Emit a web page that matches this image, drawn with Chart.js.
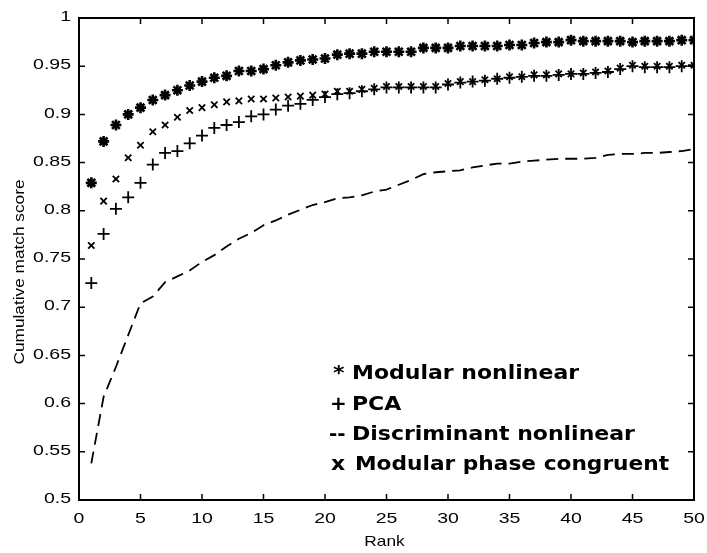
<!DOCTYPE html>
<html>
<head>
<meta charset="utf-8">
<script src="https://cdn.jsdelivr.net/npm/chart.js@4"></script>
<style>
  html, body { margin:0; padding:0; background:#fff; }
  #wrap { width:707px; height:553px; position:relative; }
</style>
</head>
<body>
<div id="wrap"><canvas id="cmc"></canvas></div>
<script>
const RANKS = [1,2,3,4,5,6,7,8,9,10,11,12,13,14,15,16,17,18,19,20,21,22,23,24,25,
  26,27,28,29,30,31,32,33,34,35,36,37,38,39,40,41,42,43,44,45,46,47,48,49,50];

const MODULAR_NONLINEAR = [0.829,0.872,0.889,0.900,0.907,0.915,0.920,0.925,0.930,0.934,
  0.938,0.940,0.945,0.945,0.947,0.951,0.954,0.956,0.957,0.958,0.962,0.963,0.963,0.965,0.965,
  0.965,0.965,0.969,0.969,0.969,0.971,0.971,0.971,0.971,0.972,0.972,0.974,0.975,0.975,0.977,
  0.976,0.976,0.976,0.976,0.975,0.976,0.976,0.976,0.977,0.977];

const PCA = [0.725,0.776,0.802,0.814,0.829,0.848,0.860,0.862,0.870,0.878,
  0.886,0.889,0.892,0.898,0.900,0.905,0.909,0.911,0.915,0.918,0.921,0.922,0.924,0.926,0.928,
  0.928,0.928,0.928,0.928,0.931,0.933,0.934,0.935,0.937,0.938,0.939,0.940,0.940,0.941,0.942,
  0.942,0.943,0.944,0.947,0.950,0.949,0.949,0.949,0.950,0.951];

const DISCRIMINANT = [0.538,0.607,0.638,0.671,0.704,0.711,0.726,0.732,0.738,0.747,
  0.754,0.763,0.771,0.777,0.785,0.790,0.796,0.801,0.806,0.809,0.813,0.814,0.816,0.820,0.822,
  0.827,0.832,0.838,0.840,0.841,0.842,0.845,0.847,0.849,0.849,0.851,0.852,0.853,0.854,0.854,
  0.854,0.855,0.858,0.859,0.859,0.860,0.860,0.861,0.862,0.864];

const PHASE_CONGRUENT = [0.764,0.810,0.833,0.855,0.868,0.882,0.889,0.897,0.904,0.907,
  0.910,0.913,0.914,0.916,0.916,0.917,0.918,0.919,0.920,0.921,0.924,0.924,0.926,0.927,0.929,
  0.929,0.929,0.929,0.929,0.932,0.934,0.934,0.936,0.937,0.939,0.939,0.941,0.941,0.942,0.942,
  0.943,0.944,0.945,0.948,0.951,0.950,0.950,0.950,0.951,0.951];

const X_TICKS = [0,5,10,15,20,25,30,35,40,45,50];
const Y_TICKS = [0.5,0.55,0.6,0.65,0.7,0.75,0.8,0.85,0.9,0.95,1];
const X_TITLE = 'Rank';
const Y_TITLE = 'Cumulative match score';

const LEGEND_LINES = [
  { mark:'*',  text:'Modular nonlinear' },
  { mark:'+',  text:'PCA' },
  { mark:'--', text:'Discriminant nonlinear' },
  { mark:'x',  text:'Modular phase congruent' },
];

const pts = arr => arr.map((v,i) => ({ x: RANKS[i], y: v }));

// the scanned figure has wide-looking glyphs, so text gets a horizontal stretch
function stretchText(ctx, str, x, y, sx, align) {
  ctx.save();
  ctx.translate(x, y);
  ctx.scale(sx, 1);
  ctx.textAlign = align;
  ctx.fillText(str, 0, 0);
  ctx.restore();
}

const boxPlugin = {
  id:'box',
  afterDraw(chart) {
    const { ctx, chartArea:a, scales:{x, y} } = chart;
    ctx.save();
    ctx.strokeStyle = '#000';
    ctx.lineWidth = 2;
    ctx.strokeRect(a.left, a.top, a.right - a.left, a.bottom - a.top);
    ctx.lineWidth = 1.5;
    ctx.beginPath();
    X_TICKS.forEach(t => {
      const px = x.getPixelForValue(t);
      ctx.moveTo(px, a.bottom); ctx.lineTo(px, a.bottom - 6);
      ctx.moveTo(px, a.top);    ctx.lineTo(px, a.top + 6);
    });
    Y_TICKS.forEach(t => {
      const py = y.getPixelForValue(t);
      ctx.moveTo(a.left, py);  ctx.lineTo(a.left + 6, py);
      ctx.moveTo(a.right, py); ctx.lineTo(a.right - 6, py);
    });
    ctx.stroke();

    ctx.fillStyle = '#000';
    // tick labels
    ctx.font = '15px "Liberation Sans"';
    ctx.textBaseline = 'alphabetic';
    X_TICKS.forEach(t => stretchText(ctx, String(t), x.getPixelForValue(t), a.bottom + 23, 1.3, 'center'));
    ctx.textBaseline = 'middle';
    Y_TICKS.forEach(t => stretchText(ctx, String(t), a.left - 8, y.getPixelForValue(t) - 1, 1.3, 'right'));

    // axis titles
    ctx.textBaseline = 'alphabetic';
    stretchText(ctx, X_TITLE, (a.left + a.right) / 2 - 2, 546, 1.15, 'center');
    ctx.save();
    ctx.translate(20, 272);
    ctx.rotate(-Math.PI / 2);
    ctx.textBaseline = 'middle';
    stretchText(ctx, Y_TITLE, 0, 0, 1.15, 'center');
    ctx.restore();

    // legend text
    ctx.font = 'bold 20px "DejaVu Sans"';
    ctx.textBaseline = 'alphabetic';
    const baselines = [379, 410, 440, 470];
    const markX = { '*':333, '+':330, '--':329, 'x':331 };
    LEGEND_LINES.forEach((l, i) => {
      stretchText(ctx, l.mark, markX[l.mark], baselines[i], l.mark === '*' || l.mark === 'x' ? 1.1 : 1.0, 'left');
      stretchText(ctx, l.text, l.mark === 'x' ? 355 : 352, baselines[i], l.mark === 'x' ? 1.085 : 1.1, 'left');
    });
    ctx.restore();
  }
};

new Chart(document.getElementById('cmc'), {
  type:'scatter',
  data:{
    datasets:[
      { label:'Modular nonlinear', data:pts(MODULAR_NONLINEAR), pointStyle:'star',
        pointRadius:5.5, borderWidth:2.6, borderColor:'#000', backgroundColor:'#000', showLine:false },
      { label:'PCA', data:pts(PCA), pointStyle:'cross',
        pointRadius:6, borderWidth:1.8, borderColor:'#000', backgroundColor:'#000', showLine:false },
      { label:'Discriminant nonlinear', data:pts(DISCRIMINANT), pointRadius:0,
        showLine:true, borderColor:'#000', borderWidth:1.8, borderDash:[12,7], tension:0 },
      { label:'Modular phase congruent', data:pts(PHASE_CONGRUENT), pointStyle:'crossRot',
        pointRadius:4.5, borderWidth:1.8, borderColor:'#000', backgroundColor:'#000', showLine:false },
    ]
  },
  options:{
    responsive:true, maintainAspectRatio:false, animation:false,
    layout:{ padding:{ top:18, right:13, left:0, bottom:0 } },
    plugins:{ legend:{ display:false }, tooltip:{ enabled:false } },
    scales:{
      x:{
        type:'linear', min:0, max:50,
        afterFit: s => { s.height = 53; },
        grid:{ display:false, drawTicks:false }, border:{ display:false },
        ticks:{ display:false },
      },
      y:{
        min:0.5, max:1,
        afterFit: s => { s.width = 79; },
        grid:{ display:false, drawTicks:false }, border:{ display:false },
        ticks:{ display:false },
      },
    },
  },
  plugins:[boxPlugin],
});
</script>
</body>
</html>
